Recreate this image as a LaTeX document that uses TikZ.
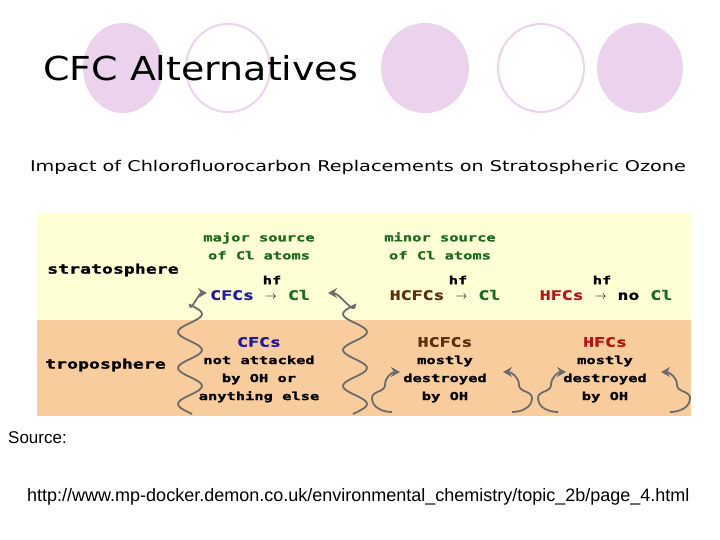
\documentclass[tikz,border=0pt]{standalone}
\usepackage{fontspec}
\setmainfont{Liberation Sans}
\newfontfamily\bfont{DejaVu Sans}
\newfontfamily\tfont[FakeStretch=1.15]{DejaVu Sans}
\newfontfamily\sfont[FakeStretch=1.3]{DejaVu Sans}
\newfontfamily\mfont[FakeStretch=1.4,FakeBold=1.5]{DejaVu Sans Mono}
\usetikzlibrary{arrows.meta}
\definecolor{pinkc}{HTML}{EBD3EE}
\definecolor{yel}{HTML}{FFFFD6}
\definecolor{ora}{HTML}{F8CC9C}
\definecolor{grn}{HTML}{1E6A1E}
\definecolor{blu}{HTML}{1E1E9C}
\definecolor{brn}{HTML}{5A3010}
\definecolor{rd}{HTML}{B41414}
\begin{document}
\begin{tikzpicture}[x=1pt,y=-1pt,
  fillc/.style={fill=pinkc,draw=none},
  openc/.style={draw=pinkc,line width=2pt},
  bt/.style={font=\mfont\bfseries\fontsize{11}{18}\selectfont,inner sep=0pt,align=center},
  big/.style={font=\mfont\bfseries\fontsize{13}{15}\selectfont,inner sep=0pt},
  sq/.style={draw=gray!85!black,line width=1.8pt,-{Stealth[length=9pt,width=10pt]}}]
\useasboundingbox (0,0) rectangle (720,540);
\fill[white] (0,0) rectangle (720,540);
\path[fillc] (123,68) ellipse [x radius=40,y radius=45];
\path[openc] (228,68) ellipse [x radius=42,y radius=44];
\path[fillc] (425,68) ellipse [x radius=44,y radius=45];
\path[openc] (541,68) ellipse [x radius=43,y radius=44];
\path[fillc] (640,68) ellipse [x radius=43,y radius=45];
\node[font=\tfont\fontsize{33}{36}\selectfont,anchor=west,inner sep=0pt] (title) at (43,68) {CFC Alternatives};
\node[font=\sfont\fontsize{14.8}{18}\selectfont,inner sep=0pt] (sub) at (358,167) {Impact of Chlorofluorocarbon Replacements on Stratospheric Ozone};
\fill[yel] (37,213) rectangle (691,320);
\fill[ora] (37,320) rectangle (691,416);
\node[big,anchor=west] (strat) at (47,270) {stratosphere};
\node[big,anchor=west] (trop) at (45,365) {troposphere};
\node[bt,text=grn] (maj) at (259,246) {major source\\of Cl atoms};
\node[bt] (hf1) at (272,280) {hf};
\node[big] (r1) at (260,295) {\textcolor{blu}{CFCs} {\bfont$\rightarrow$} \textcolor{grn}{Cl}};
\node[bt,text=grn] (min) at (440,246) {minor source\\of Cl atoms};
\node[bt] (hf2) at (458,280) {hf};
\node[big] (r2) at (445,295) {\textcolor{brn}{HCFCs} {\bfont$\rightarrow$} \textcolor{grn}{Cl}};
\node[bt] (hf3) at (602,280) {hf};
\node[big] (r3) at (606,295) {\textcolor{rd}{HFCs} {\bfont$\rightarrow$} no \textcolor{grn}{Cl}};
\node[big,text=blu] (c1) at (259,342) {CFCs};
\node[bt] (t1) at (259,379) {not attacked\\by OH or\\anything else};
\node[big,text=brn] (c2) at (445,342) {HCFCs};
\node[bt] (t2) at (445,379) {mostly\\destroyed\\by OH};
\node[big,text=rd] (c3) at (605,342) {HFCs};
\node[bt] (t3) at (605,379) {mostly\\destroyed\\by OH};
% big squiggles
\draw[sq] plot[smooth,domain=414:305,samples=60] ({190+12*sin((\x-305)*10)},\x) to[out=-90,in=180] (207,293);
\draw[sq] plot[smooth,domain=414:305,samples=60] ({355-12*sin((\x-305)*10)},\x) to[out=-90,in=0] (328,293);
% small squiggles
\draw[sq] (392,412) to[out=180,in=-90] (372,398) to[out=90,in=-90] (385,385) to[out=90,in=180] (400,372);
\draw[sq] (512,412) to[out=0,in=-90] (532,398) to[out=90,in=-90] (519,385) to[out=90,in=0] (503,372);
\draw[sq] (558,412) to[out=180,in=-90] (538,398) to[out=90,in=-90] (551,385) to[out=90,in=180] (566,372);
\draw[sq] (670,412) to[out=0,in=-90] (690,398) to[out=90,in=-90] (677,385) to[out=90,in=0] (661,372);
\node[anchor=west,font=\fontsize{17}{20}\selectfont,inner sep=0pt] (src) at (8,438) {Source:};
\node[anchor=west,font=\fontsize{18}{20}\selectfont,inner sep=0pt] (url) at (27,497) {http://www.mp-docker.demon.co.uk/environmental\_chemistry/topic\_2b/page\_4.html};
\end{tikzpicture}
\end{document}
